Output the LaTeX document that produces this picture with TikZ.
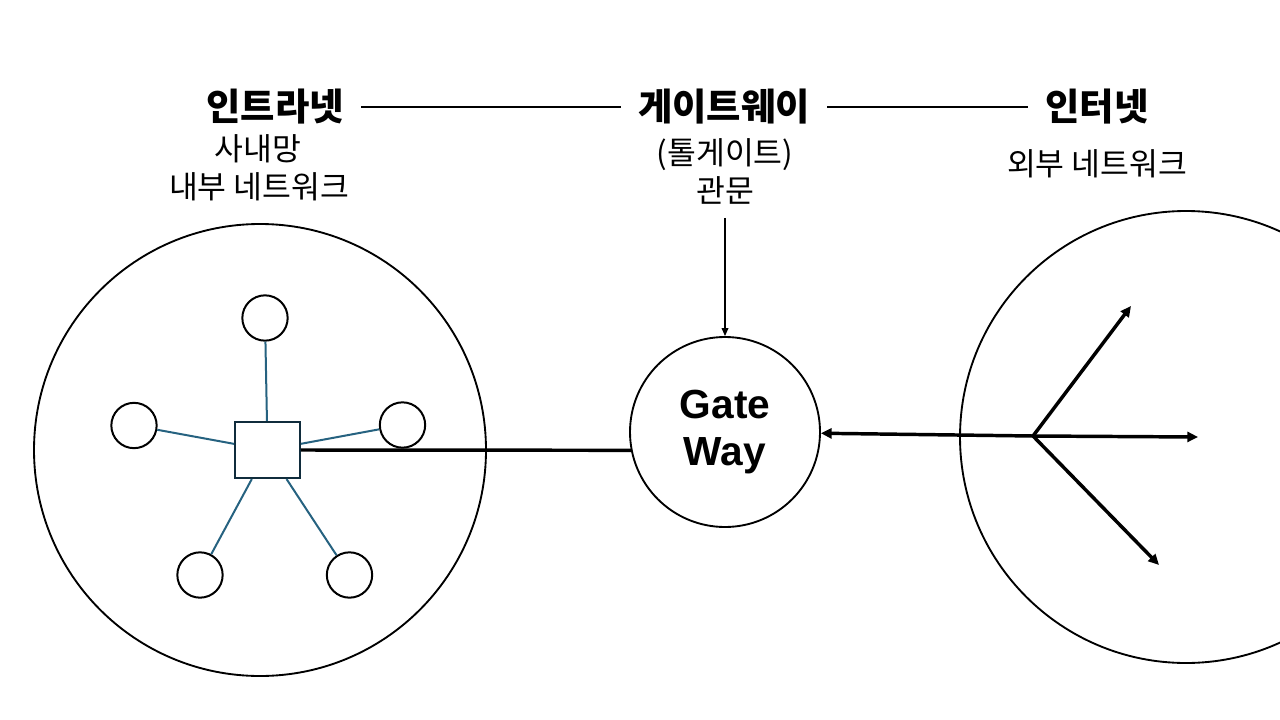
\documentclass[tikz,border=0pt]{standalone}
\usepackage{fontspec}
\setmainfont{Noto Sans CJK KR}
\newfontfamily\latinfont{Liberation Sans}
\usetikzlibrary{arrows.meta,positioning}
\definecolor{linkblue}{RGB}{38,98,128}
\definecolor{boxdark}{RGB}{16,44,60}

\begin{document}
\begin{tikzpicture}[
  x=0.75pt,y=-0.75pt,
  title/.style={font=\fontsize{28}{32}\selectfont\bfseries,inner xsep=13pt,inner ysep=0pt},
  sub/.style={font=\fontsize{23.5}{28}\selectfont,inner sep=0pt},
  net/.style={draw,circle,line width=1.4pt,minimum size=339pt,inner sep=0pt},
  host/.style={draw,circle,line width=1.5pt,minimum size=34pt,inner sep=0pt},
  switchbox/.style={draw=boxdark,line width=1.6pt,minimum width=48.5pt,minimum height=42pt,inner sep=0pt},
  spoke/.style={draw=linkblue,line width=1.5pt},
  trunk/.style={line width=2.6pt},
  flow/.style={-{Triangle[length=8pt,width=7.5pt]},line width=2.6pt}]
  \useasboundingbox (0,0) rectangle (1280,720);
  % titles
  \node[title] (intra) at (275,107) {인트라넷};
  \node[title] (gwtitle) at (724,107) {게이트웨이};
  \node[title] (inter) at (1097,107) {인터넷};
  \draw[line width=1.1pt] (intra) -- (gwtitle);
  \draw[line width=1.1pt] (gwtitle) -- (inter);
  \node[sub] (intra1) at (258,149) {사내망};
  \node[sub] (intra2) at (259,187) {내부 네트워크};
  \node[sub] (gw1) at (725,155) {(톨게이트)};
  \node[sub] (gw2) at (725,190) {관문};
  \node[sub] (inter1) at (1097,164) {외부 네트워크};
  % networks
  \node[net] (lan) at (260,450) {};
  \node[net] (wan) at (1186,437) {};
  \node[draw,circle,line width=1.4pt,minimum size=142.5pt,inner sep=0pt,
        font=\latinfont\fontsize{30.5}{35}\selectfont\bfseries,align=center] (gw) at (725,432) {Gate\\Way};
  % star inside the intranet
  \node[switchbox] (sw) at (267.5,450) {};
  \node[host] (h1) at (265,318) {};
  \node[host] (h2) at (134,425.5) {};
  \node[host] (h3) at (402.5,425) {};
  \node[host] (h4) at (200,575) {};
  \node[host] (h5) at (349.5,575) {};
  \foreach \h in {h1,h2,h3,h4,h5}
    \draw[spoke] (\h) -- (sw);
  \draw[trunk] (sw.east) -- (gw.191);
  \coordinate (gwin) at (725,218);
  \draw[-{Triangle[length=6pt,width=5pt]},line width=1.1pt] (gwin) -- (gw);
  % internet fan
  \coordinate (hub) at (1033,436);
  \coordinate (o1) at (1131,306);
  \coordinate (o2) at (1198,437);
  \coordinate (o3) at (1159,565);
  \draw[flow] (hub) -- (gw);
  \foreach \o in {o1,o2,o3}
    \draw[flow] (hub) -- (\o);
\end{tikzpicture}
\end{document}
